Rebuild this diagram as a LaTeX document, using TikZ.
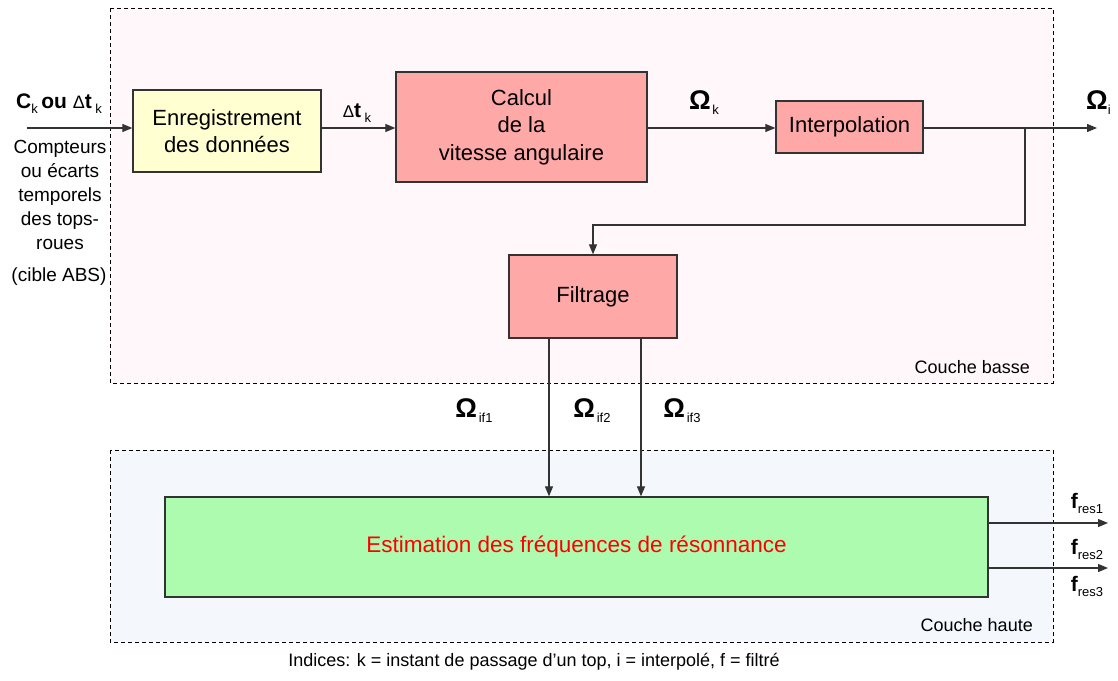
\documentclass[tikz,border=0pt]{standalone}
\usepackage{fontspec}
\setmainfont{Liberation Sans}
\usetikzlibrary{arrows.meta,calc}
\definecolor{pinkbox}{HTML}{FFA8A8}
\definecolor{yellowbox}{HTML}{FFFFD2}
\definecolor{greenbox}{HTML}{ADFBAF}
\definecolor{basfill}{HTML}{FFF7F9}
\definecolor{hautfill}{HTML}{F4F8FD}
\definecolor{edge}{HTML}{333333}
\newcommand\fsz[2]{\fontsize{#1}{#2}\selectfont}
\newcommand\sbx[1]{\raisebox{-5pt}{\fsz{13}{13}\mdseries #1}}
\newcommand\bigom{{\fsz{27}{28}\bfseries Ω}}
\begin{document}
\begin{tikzpicture}[x=1pt,y=-1pt,
  layer/.style={draw=black, dash pattern=on 4pt off 3pt, line width=0.9pt},
  blk/.style={draw=edge, line width=1.3pt, align=center, inner sep=0pt, font=\fsz{22}{27.5}},
  arr/.style={draw=edge, line width=1.2pt, -{Triangle[length=10pt,width=8pt]}},
  lbl/.style={inner sep=0pt, align=center}]
\useasboundingbox (0,0) rectangle (1118,680);
\fill[white] (0,0) rectangle (1118,680);
% layers
\path[layer, fill=basfill] (110,8) rectangle (1053,383);
\path[layer, fill=hautfill] (110,450) rectangle (1053,642);
\node[lbl, anchor=east, font=\fsz{18}{20}] (cb) at (1030,367) {Couche basse};
\node[lbl, anchor=east, font=\fsz{18}{20}] (ch) at (1033,625) {Couche haute};
% blocks
\node[blk, fill=yellowbox, minimum width=188pt, minimum height=82pt] (enr) at (227,131) {Enregistrement\\des données};
\node[blk, fill=pinkbox, minimum width=251pt, minimum height=110pt] (calc) at (521.5,127) {Calcul\\de la\\vitesse angulaire};
\node[blk, fill=pinkbox, minimum width=147pt, minimum height=52pt] (interp) at (849.5,127) {Interpolation};
\node[blk, fill=pinkbox, minimum width=168pt, minimum height=83pt] (filt) at (593,296.5) {Filtrage};
\node[blk, fill=greenbox, minimum width=823pt, minimum height=100pt, text=red, font=\fsz{22.5}{26}] (est) at (576.5,547) {Estimation des fréquences de résonnance};
% coordinates
\coordinate (in) at (27,128);
\coordinate (out) at (1097,128);
\coordinate (br) at (1025,128);
\coordinate (f1) at ([xshift=-44pt]filt.south);
\coordinate (f2) at ([xshift=48pt]filt.south);
\coordinate (o1) at (1108,523);
\coordinate (o2) at (1108,568);
% connectors
\draw[arr] (in) -- (in -| enr.west);
\draw[arr] (enr.east |- in) -- (calc.west |- in);
\draw[arr] (calc.east |- in) -- (interp.west |- in);
\draw[arr] (interp.east |- in) -- (out);
\draw[arr] (br) |- (593,225) -- (filt.north);
\draw[arr] (f1) -- (f1 |- est.north);
\draw[arr] (f2) -- (f2 |- est.north);
\draw[arr] (est.east |- o1) -- (o1);
\draw[arr] (est.east |- o2) -- (o2);
% labels
\node[lbl, font=\fsz{21}{24}] (lin) at (59,104) {\textbf{C}\sbx{k}\,\textbf{ou} {\fsz{18}{20}Δ}\textbf{t}\,\sbx{k}};
\node[lbl, font=\fsz{19}{24}] (cpt) at (60,195) {Compteurs\\ou écarts\\temporels\\des tops-\\roues};
\node[lbl, font=\fsz{19}{24}] (abs) at (59,277) {(cible ABS)};
\node[lbl, font=\fsz{21}{24}] (ldt) at (357,113) {{\fsz{17}{20}Δ}\textbf{t}\,\sbx{k}};
\node[lbl] (lok) at (704,103) {\bigom\,\sbx{k}};
\node[lbl, anchor=west] (loi) at (1086,103) {\bigom\sbx{i}};
\node[lbl] (lf1) at (474,411) {\bigom\,\sbx{if1}};
\node[lbl] (lf2) at (592,411) {\bigom\,\sbx{if2}};
\node[lbl] (lf3) at (682,411) {\bigom\,\sbx{if3}};
\node[lbl, font=\fsz{21}{24}] (r1) at (1087,503) {\textbf{f}\sbx{res1}};
\node[lbl, font=\fsz{21}{24}] (r2) at (1087,549) {\textbf{f}\sbx{res2}};
\node[lbl, font=\fsz{21}{24}] (r3) at (1087,586) {\textbf{f}\sbx{res3}};
\node[lbl, font=\fsz{18}{20}] (ind) at (534,662) {Indices: k = instant de passage d’un top, i = interpolé, f = filtré};
\end{tikzpicture}
\end{document}
